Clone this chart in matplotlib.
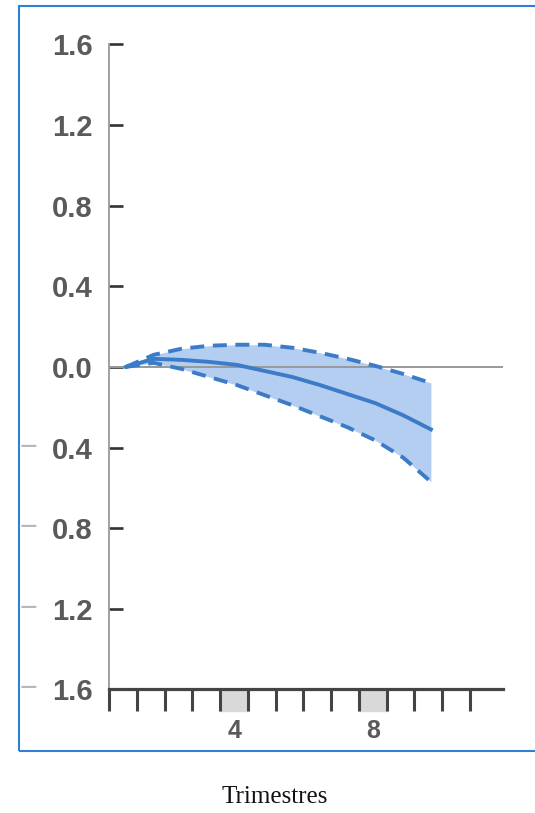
"""impulse response with confidence band"""
import numpy as np
import matplotlib.pyplot as plt
from matplotlib.patches import Rectangle
import matplotlib.transforms as mtransforms

# response by quarter (12 quarters)
central = [0.0, 0.04, 0.035, 0.025, 0.01, -0.02, -0.05, -0.09, -0.135, -0.18, -0.24, -0.31]
upper = [0.0, 0.06, 0.09, 0.105, 0.11, 0.11, 0.095, 0.07, 0.04, 0.005, -0.035, -0.08]
lower = [0.0, 0.02, -0.01, -0.05, -0.09, -0.14, -0.19, -0.245, -0.30, -0.365, -0.45, -0.57]

y_ticks = [1.6, 1.2, 0.8, 0.4, 0.0, -0.4, -0.8, -1.2, -1.6]
x_labels = ['4', '8']

x = np.arange(len(central)) + 0.6
label_pos = [4.5, 9.5]

blue = '#3b7bc8'
band = '#b3cef0'

fig = plt.figure(figsize=(5.35, 8.13), dpi=100)
ax = fig.add_axes([0.2043, 0.152, 0.7359, 0.7934])

ax.fill_between(x, lower, upper, color=band, lw=0, zorder=1)
ax.axhline(0, color='#999999', lw=1.4, zorder=2)
ax.plot(x, central, color=blue, lw=2.8, zorder=3)
ax.plot(x, upper, color=blue, lw=2.8, dashes=(3.6, 2.2), zorder=3)
ax.plot(x, lower, color=blue, lw=2.8, dashes=(3.6, 2.2), zorder=3)

ax.set_xlim(0, 14.2)
ax.set_ylim(-1.6, 1.6)

"""spines"""
for s in ['top', 'right']:
    ax.spines[s].set_visible(False)
ax.spines['left'].set_color('#999999')
ax.spines['left'].set_linewidth(1.3)
ax.spines['bottom'].set_color('#444444')
ax.spines['bottom'].set_linewidth(2.3)
ax.spines['bottom'].set_zorder(5)

"""y ticks: digits dark, minus sign light"""
ax.set_yticks(y_ticks)
ax.set_yticklabels(['%.1f' % abs(v) for v in y_ticks])
ax.tick_params(axis='y', direction='in', length=10, width=1.9, color='#333333',
               pad=12, labelsize=21, labelcolor='#5a5a5a')
for lab in ax.get_yticklabels():
    lab.set_family('Liberation Sans')
    lab.set_weight('bold')
for v in y_ticks:
    if v < 0:
        ax.text(-0.206, v, '\u2212', transform=ax.get_yaxis_transform(),
                ha='center', va='center', fontsize=22, color='#b8b8b8',
                family='Liberation Sans')

"""x ticks: boundaries as minor ticks, labels under shaded quarters"""
ax.set_xticks(np.arange(0, 14), minor=True)
ax.set_xticks(label_pos)
ax.set_xticklabels(x_labels)
ax.tick_params(axis='x', which='minor', direction='out', length=16, width=2.2, color='#444444')
ax.tick_params(axis='x', which='major', length=0, pad=21, labelsize=18, labelcolor='#5a5a5a')
for lab in ax.get_xticklabels():
    lab.set_family('Liberation Sans')
    lab.set_weight('bold')

trans = mtransforms.blended_transform_factory(ax.transData, ax.transAxes)
for p in label_pos:
    ax.add_patch(Rectangle((p - 0.5, -0.033), 1.0, 0.033, transform=trans,
                           color='#d9d9d9', clip_on=False, zorder=0))

"""blue frame"""
fig.add_artist(Rectangle((19 / 535, 1 - 751 / 813), 1.2, 745 / 813,
                         transform=fig.transFigure, fill=False,
                         edgecolor='#2f80d2', lw=1.5))

fig.text(275 / 535, 1 - 797 / 813, 'Trimestres', ha='center', va='center',
         fontsize=18, family='Liberation Serif', color='#111111')

plt.savefig('out.png', dpi=100)
